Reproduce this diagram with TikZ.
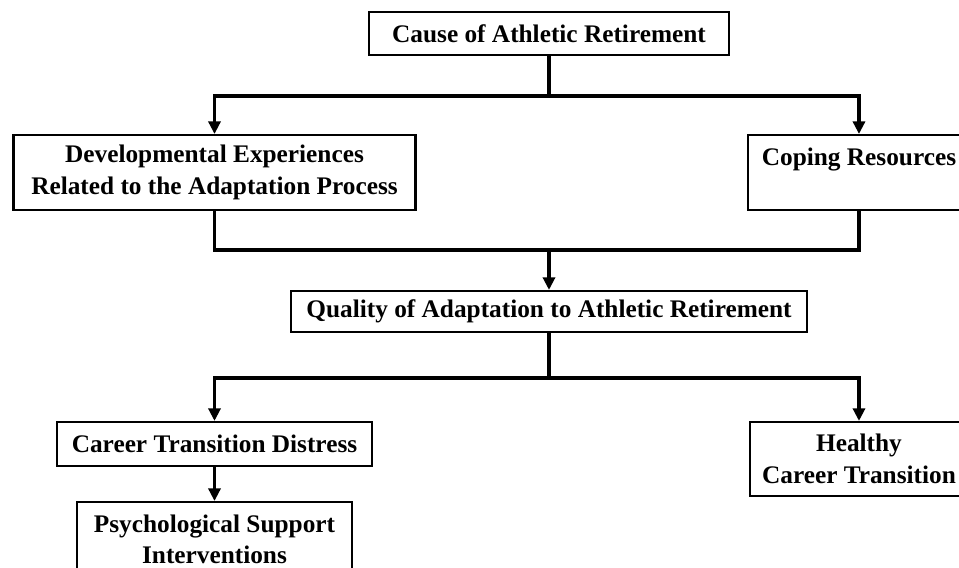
\documentclass[tikz,border=0pt]{standalone}
\usepackage{fontspec}
\setmainfont{Liberation Serif}
\usetikzlibrary{arrows.meta}

\begin{document}
\begin{tikzpicture}[
  box/.style={draw, line width=1.9pt, align=center, inner sep=0pt, minimum width=#1, font=\fontsize{24}{30}\selectfont\bfseries},
  link/.style={line width=3.2pt},
  arrow/.style={link, -{Triangle[length=0.42cm, width=0.4cm]}}
]
  \path[use as bounding box, fill=white] (0,0) rectangle (31.967,-18.933);

  \node[box=12cm, minimum height=1.43cm] (cause) at (18.3,-1.117) {Cause of Athletic Retirement};
  \node[box=13.4cm, minimum height=2.5cm] (develop) at (7.15,-5.75) {Developmental Experiences\\Related to the Adaptation Process};
  \node[box=7.4cm, minimum height=2.5cm] (coping) at (28.633,-5.75) {Coping Resources\\\mbox{}};
  \node[box=17.23cm, minimum height=1.37cm] (quality) at (18.3,-10.383) {Quality of Adaptation to Athletic Retirement};
  \node[box=10.5cm, minimum height=1.47cm] (distress) at (7.15,-14.8) {Career Transition Distress};
  \node[box=7.27cm, minimum height=2.47cm] (healthy) at (28.633,-15.3) {Healthy\\Career Transition};
  \node[box=9.17cm, minimum height=2.5cm, anchor=north] (support) at (7.15,-16.7) {Psychological Support\\Interventions};

  % branch and join points of the tree lines
  \coordinate (split1) at (18.3,-3.2);
  \coordinate (join) at (18.3,-8.333);
  \coordinate (split2) at (18.3,-12.6);

  \draw[link] (cause) -- (split1);
  \draw[arrow] (split1) -| (develop);
  \draw[arrow] (split1) -| (coping);
  \draw[link] (develop) |- (join);
  \draw[link] (coping) |- (join);
  \draw[arrow] (join) -- (quality);
  \draw[link] (quality) -- (split2);
  \draw[arrow] (split2) -| (distress);
  \draw[arrow] (split2) -| (healthy);
  \draw[arrow] (distress) -- (support);
\end{tikzpicture}
\end{document}
